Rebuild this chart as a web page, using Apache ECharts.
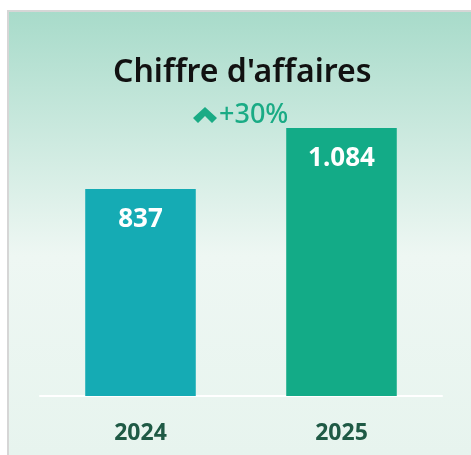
<!DOCTYPE html>
<html>
<head>
<meta charset="utf-8">
<script src="https://cdn.jsdelivr.net/npm/echarts@6/dist/echarts.min.js"></script>
<style>
  html, body { margin: 0; padding: 0; background: #fff; }
  #chart { width: 471px; height: 455px; }
</style>
</head>
<body>
<div id="chart"></div>
<script>
var years = ['2024', '2025'];
var revenue = [837, 1084];
var barColors = ['#15abb4', '#13ab87'];
var growthText = '+30%';

var chart = echarts.init(document.getElementById('chart'));

option = {
    backgroundColor: '#ffffff',
    animation: false,
    graphic: [
        {
            type: 'rect',
            left: 7,
            top: 10,
            z: -10,
            shape: { width: 464, height: 445 },
            style: { fill: '#d6d6d6' }
        },
        {
            type: 'rect',
            left: 9,
            top: 12,
            z: -9,
            shape: { width: 462, height: 443 },
            style: {
                fill: new echarts.graphic.LinearGradient(0, 0, 0, 1, [
                    { offset: 0, color: '#a8dbca' },
                    { offset: 0.55, color: '#eef7f3' },
                    { offset: 1, color: '#e7f4ee' }
                ])
            }
        },
        {
            type: 'text',
            left: 113,
            top: 57,
            style: {
                text: "Chiffre d'affaires",
                fill: '#111',
                font: '600 32px "Noto Sans"'
            }
        },
        {
            type: 'polygon',
            shape: { points: [[193, 118], [205, 107], [217, 118], [212, 123], [205, 116], [198, 123]] },
            style: { fill: '#1aab85' }
        },
        {
            type: 'text',
            left: 219,
            top: 102,
            style: {
                text: growthText,
                fill: '#1aab85',
                font: '500 27px "Noto Sans"'
            }
        }
    ],
    grid: {
        left: 40,
        right: 29,
        top: 128,
        bottom: 59
    },
    xAxis: {
        type: 'category',
        data: years,
        axisLine: { lineStyle: { color: '#ffffff', width: 2 } },
        axisTick: { show: false },
        axisLabel: {
            margin: 26,
            color: '#1f5a45',
            fontSize: 23,
            fontWeight: 'bold',
            fontFamily: 'Noto Sans'
        }
    },
    yAxis: {
        type: 'value',
        min: 0,
        max: 1084,
        show: false,
        splitLine: { show: false }
    },
    series: [
        {
            type: 'bar',
            barWidth: '55%',
            data: revenue.map(function (v, i) {
                return { value: v, itemStyle: { color: barColors[i] } };
            }),
            label: {
                show: true,
                position: 'insideTop',
                distance: 18,
                color: '#ffffff',
                fontSize: 26,
                fontWeight: 'bold',
                fontFamily: 'Noto Sans',
                formatter: function (p) {
                    return p.value >= 1000
                        ? Math.floor(p.value / 1000) + '.' + String(p.value % 1000).padStart(3, '0')
                        : String(p.value);
                }
            }
        }
    ]
};

chart.setOption(option);
</script>
</body>
</html>
